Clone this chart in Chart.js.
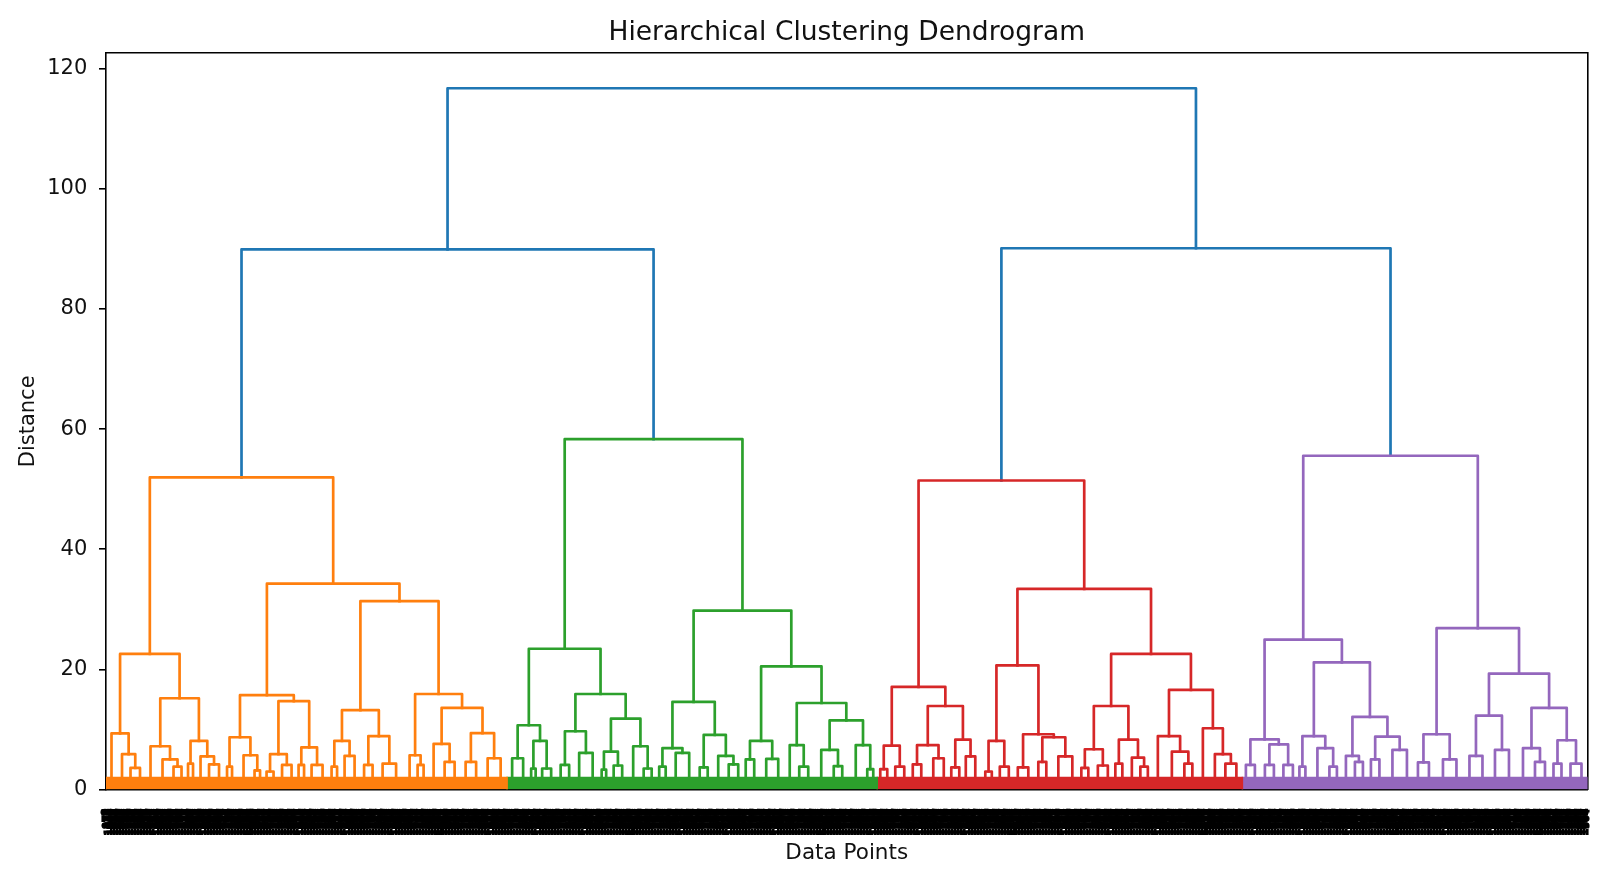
<!DOCTYPE html>
<html><head><meta charset="utf-8">
<script src="https://cdn.jsdelivr.net/npm/chart.js@4.4.1/dist/chart.umd.min.js"></script>
<style>html,body{margin:0;padding:0;background:#fff;}canvas{display:block;}</style>
</head><body>
<canvas id="c" width="1620" height="882"></canvas>
<script>
// ---------------- data ----------------
const chartTitle = 'Hierarchical Clustering Dendrogram';
const xAxisTitle = 'Data Points';
const yAxisTitle = 'Distance';
const yTickValues = [0, 20, 40, 60, 80, 100, 120];
const yLimit = 122.6;
const leafGroupHeight = 2.0;
// root, left pair, right pair
const topLinkHeights = [116.76, 89.95, 90.12];
const aboveColor = '#1f77b4';
const clusterColors = ['#ff7f0e', '#2ca02c', '#d62728', '#9467bd'];
// node = [mergeHeight, left, right]; a plain number = group of that many leaves
const orangeTree = [51.97,
  [22.58,
    [9.35, 11, [5.9, 10, [3.6, 7, 12]]],
    [15.19,
      [7.2, 9, [5.0, 15, [3.8, 7, 9]]],
      [8.1, [4.3, 4, 6], [5.5, 9, [4.2, 8, 12]]]]],
  [34.27,
    [15.7,
      [8.7, [3.8, 4, 6], [5.7, 17, [3.2, 5, 6]]],
      [14.7, [5.9, [3.0, 7, 7], [4.1, 10, 9]], [7.0, [4.1, 5, 6], [4.1, 9, 13]]]],
    [31.35,
      [13.2, [8.1, [3.8, 5, 6], [5.6, 9, 11]], [8.9, [4.1, 8, 9], [4.3, 11, 16]]],
      [15.9, [5.7, 11, [4.1, 5, 7]], [13.6, [7.6, 13, [4.6, 9, 11]], [9.4, [4.6, 11, 10], [5.2, 13, 13]]]]]]];
const greenTree = [58.33,
  [23.44,
    [10.7, [5.2, 10, 12], [8.1, [3.5, 4, 5], [3.5, 8, 10]]],
    [15.9,
      [9.7, [4.1, 9, 8], [6.1, 12, 15]],
      [11.8, [6.3, [3.3, 3, 6], [4.0, 9, 8]], [7.2, 14, [3.5, 7, 9]]]]],
  [29.8,
    [14.6, [6.9, [3.8, 6, 7], [6.1, 13, 14]], [9.1, [3.7, 7, 9], [5.6, 12, [4.2, 9, 10]]]],
    [20.5,
      [8.1, [5.0, 5, 12], [5.1, 12, 12]],
      [14.4, [7.4, 11, [3.8, 8, 10]], [11.5, [6.6, 16, [3.9, 9, 8]], [7.4, 19, [3.4, 4, 8]]]]]]];
const redTree = [51.45,
  [17.09,
    [7.3, [3.4, 6, 8], [3.8, 8, 10]],
    [13.9, [7.4, [4.2, 7, 10], [5.2, 14, 7]], [8.3, [3.7, 8, 8], [5.5, 5, 14]]]],
  [33.41,
    [20.68, [8.1, [3.0, 6, 7], [3.8, 9, 9]], [9.2, [3.7, 9, 12], [8.7, [4.6, 8, 8], [5.5, 16, 12]]]],
    [22.58,
      [13.9, [6.7, [3.6, 6, 8], [4.0, 11, 9]], [8.3, [4.3, 6, 8], [5.3, 11, [3.8, 6, 9]]]],
      [16.6, [8.9, 11, [6.3, 17, [4.3, 8, 8]]], [10.2, 13, [5.9, 11, [4.3, 10, 12]]]]]]];
const purpleTree = [55.57,
  [24.97,
    [8.35, [4.1, 7, 11], [7.5, [4.1, 9, 9], [4.1, 10, 9]]],
    [21.18,
      [8.9, [3.8, 4, 8], [6.9, 16, [3.8, 8, 7]]],
      [12.1, [5.6, 11, [4.6, 7, 9]], [8.8, [5.0, 7, 10], [6.6, 16, 13]]]]],
  [26.87,
    [9.2, [4.5, 9, 13], [5.0, 15, 12]],
    [19.3,
      [12.3, [5.6, 14, 12], [6.6, 13, 15]],
      [13.6, [6.9, 13, [4.6, 11, 9]], [8.2, [4.3, 8, 8], [4.3, 10, 12]]]]]];
const clusterTrees = [orangeTree, greenTree, redTree, purpleTree];

// ---------------- layout (scipy-style: leaf i at 10*i+5) ----------------
const links = [];
const bands = [];
let cursor = 0;
function layout(node, color, blockList) {
  if (typeof node === 'number') {
    const s = cursor; cursor += node;
    blockList.push([s * 10, (s + node) * 10]);
    return {x: (s + node / 2) * 10, h: leafGroupHeight};
  }
  const [h, L, R] = node;
  const a = layout(L, color, blockList);
  const b = layout(R, color, blockList);
  links.push({color, pts: [{x: a.x, y: a.h}, {x: a.x, y: h}, {x: b.x, y: h}, {x: b.x, y: b.h}]});
  return {x: (a.x + b.x) / 2, h};
}
const tops = clusterTrees.map((t, i) => {
  const bl = [];
  const r = layout(t, clusterColors[i], bl);
  bands.push({color: clusterColors[i], blocks: bl});
  return r;
});
function joinTop(a, b, h) {
  links.push({color: aboveColor, pts: [{x: a.x, y: a.h}, {x: a.x, y: h}, {x: b.x, y: h}, {x: b.x, y: b.h}]});
  return {x: (a.x + b.x) / 2, h};
}
const leftTop = joinTop(tops[0], tops[1], topLinkHeights[1]);
const rightTop = joinTop(tops[2], tops[3], topLinkHeights[2]);
joinTop(leftTop, rightTop, topLinkHeights[0]);
const N = cursor;
const leafPositions = [];
const leafLabels = [];
for (let i = 0; i < N; i++) { leafPositions.push(10 * i + 5); leafLabels.push(String((i * 977) % N)); }

const datasets = [];
links.forEach(l => datasets.push({
  data: l.pts, showLine: true, borderColor: l.color, borderWidth: 2.7, pointRadius: 0,
  fill: false, tension: 0, borderCapStyle: 'square', borderJoinStyle: 'round', xAxisID: 'x', yAxisID: 'y'
}));
bands.forEach(b => {
  const pts = [{x: b.blocks[0][0], y: 0}];
  b.blocks.forEach(bl => { pts.push({x: bl[0], y: leafGroupHeight}); pts.push({x: bl[1], y: leafGroupHeight}); });
  pts.push({x: b.blocks[b.blocks.length - 1][1], y: 0});
  datasets.push({data: pts, showLine: true, borderColor: b.color, backgroundColor: b.color, borderWidth: 1.5,
    pointRadius: 0, fill: 'origin', tension: 0, xAxisID: 'x', yAxisID: 'y'});
});

const font = 'DejaVu Sans';
const spine = {display: true, color: '#000', width: 1.6};
new Chart(document.getElementById('c'), {
  type: 'scatter',
  data: {datasets},
  options: {
    responsive: false, animation: false, devicePixelRatio: 1, events: [],
    layout: {padding: {left: 0, right: 32.5, top: 0, bottom: 0}},
    plugins: {
      legend: {display: false}, tooltip: {enabled: false},
      title: {display: true, fullSize: false, text: chartTitle, color: '#111',
        font: {family: font, size: 26.5, weight: 'normal'}, padding: {top: 17.2, bottom: 4.2}}
    },
    scales: {
      x: {type: 'linear', position: 'bottom', min: 0, max: 10 * N,
        afterBuildTicks: s => { s.ticks = leafPositions.map(v => ({value: v})); },
        afterFit: s => { s.height = 92.5; s.paddingLeft = 0; s.paddingRight = 0; },
        grid: {display: false}, border: spine,
        ticks: {autoSkip: false, minRotation: 90, maxRotation: 90, padding: 11.2, color: '#000',
          textStrokeColor: '#000', textStrokeWidth: 1.2,
          font: {family: font, size: 9.6, weight: 'bold'}, callback: (v, i) => leafLabels[i]},
        title: {display: true, text: xAxisTitle, color: '#111', font: {family: font, size: 21.5},
          padding: {top: 0, bottom: 15.6}}},
      y: {type: 'linear', position: 'left', min: 0, max: yLimit,
        afterBuildTicks: s => { s.ticks = yTickValues.map(v => ({value: v})); },
        afterFit: s => { s.width = 106; s.paddingTop = 0; s.paddingBottom = 0; },
        grid: {display: true, drawOnChartArea: false, drawTicks: true, tickLength: 7, color: '#000', lineWidth: 1.6},
        border: spine,
        ticks: {padding: 11.7, color: '#111', font: {family: font, size: 21}, callback: v => String(v)},
        title: {display: true, text: yAxisTitle, color: '#111', font: {family: font, size: 21},
          padding: {top: 16.2, bottom: 0}}},
      xTop: {type: 'linear', position: 'top', min: 0, max: 10 * N,
        ticks: {display: false}, grid: {display: false}, border: spine,
        afterFit: s => { s.height = 0; s.paddingLeft = 0; s.paddingRight = 0; }},
      yRight: {type: 'linear', position: 'right', min: 0, max: yLimit,
        ticks: {display: false}, grid: {display: false}, border: spine,
        afterFit: s => { s.width = 0; s.paddingTop = 0; s.paddingBottom = 0; }}
    }
  }
});
</script></body></html>
